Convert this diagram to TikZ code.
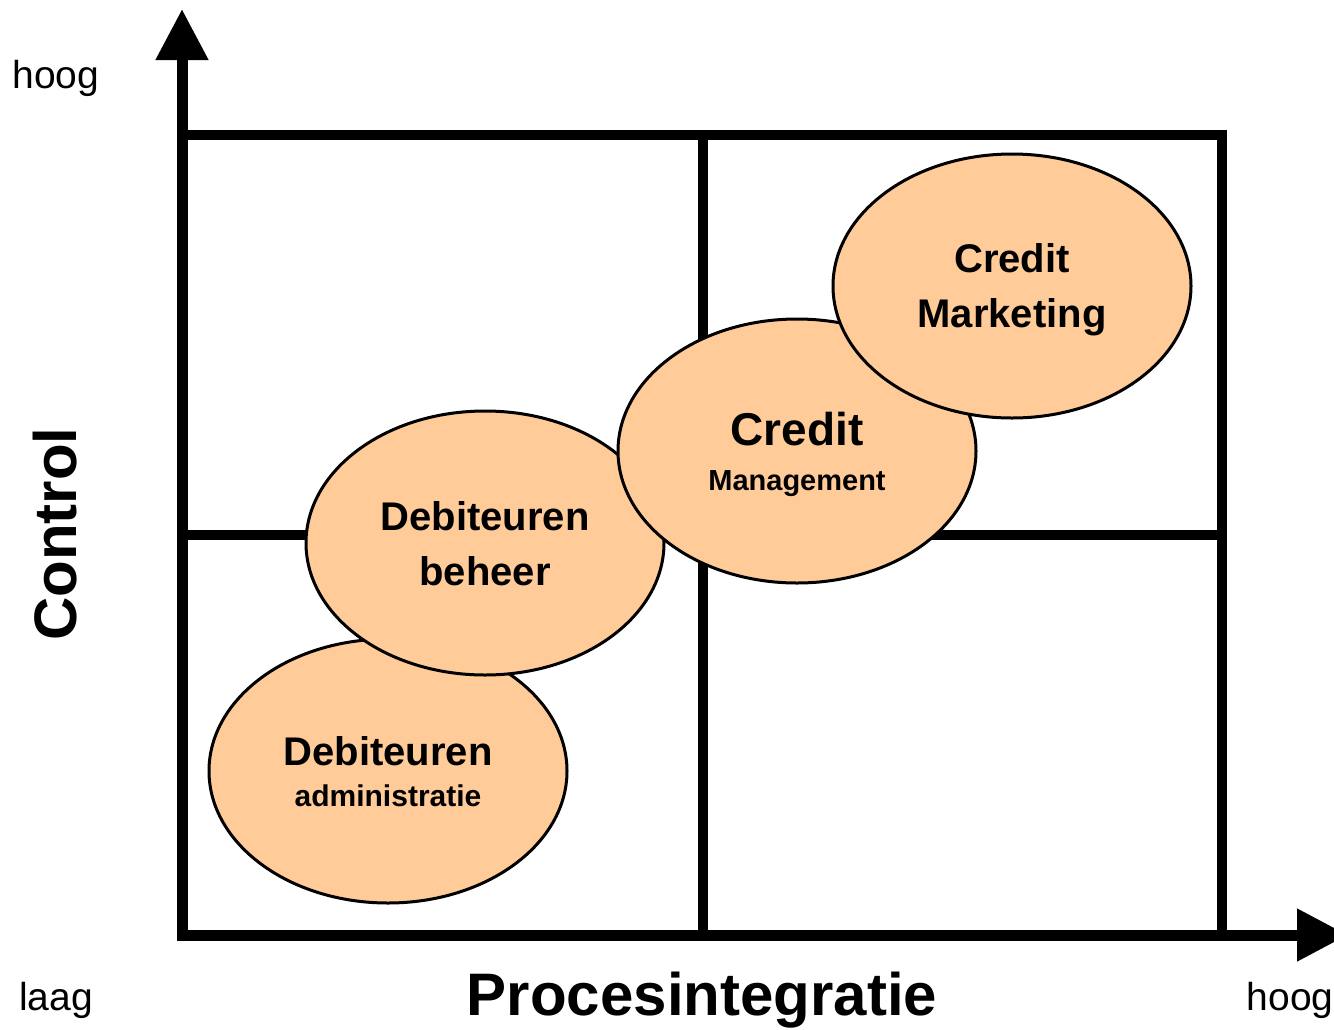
\documentclass[tikz,border=0pt]{standalone}
\usepackage{fontspec}
\setmainfont{Liberation Sans}
\usetikzlibrary{arrows.meta,shapes.geometric}
\definecolor{peach}{HTML}{FFCC99}

\begin{document}
\begin{tikzpicture}[x=1pt,y=-1pt,
	grid/.style={black, line width=10pt},
	axis/.style={black, line width=11pt},
	blob/.style={ellipse, draw=black, line width=3pt, fill=peach, inner sep=0pt,
		minimum width=358pt, minimum height=264pt, align=center, text depth=0pt,
		font=\bfseries\fontsize{40}{55}\selectfont},
	word/.style={anchor=base, inner sep=0pt, font=\fontsize{39}{47}\selectfont},
	big/.style={word, font=\bfseries\fontsize{60}{72}\selectfont}]

	\useasboundingbox (0,0) rectangle (1334,1029);

	% grid
	\draw [grid] (182,135) rectangle (1222,935);
	\draw [grid] (703,135) -- (703,935);
	\draw [grid] (182,535) -- (1222,535);

	% axes
	\coordinate (ytip) at (182,9);
	\coordinate (xtip) at (1348,935);
	\draw [axis, {Triangle[width=50pt,length=51pt]}-{Triangle[width=50pt,length=51pt]}] (ytip) |- (xtip);

	% blobs
	\node [blob] (adm) at (388,771) {Debiteuren\\[-14pt]\fontsize{30}{41}\selectfont administratie};
	\node [blob] (beh) at (485,543) {Debiteuren\\beheer};
	\node [blob] (cman) at (797,451) {\fontsize{46}{55}\selectfont Credit\\[-10pt]\fontsize{29}{45}\selectfont Management};
	\node [blob] (cmar) at (1012,286) {Credit\\Marketing};

	% label
	\node [word] (hi1) at (56,88) {hoog};
	\node [word] (lo) at (56,1010) {laag};
	\node [word] (hi2) at (1290,1010) {hoog};
	\node [big, rotate=90] (ctl) at (76,534) {Control};
	\node [big] (pin) at (702,1015) {Procesintegratie};
\end{tikzpicture}
\end{document}
